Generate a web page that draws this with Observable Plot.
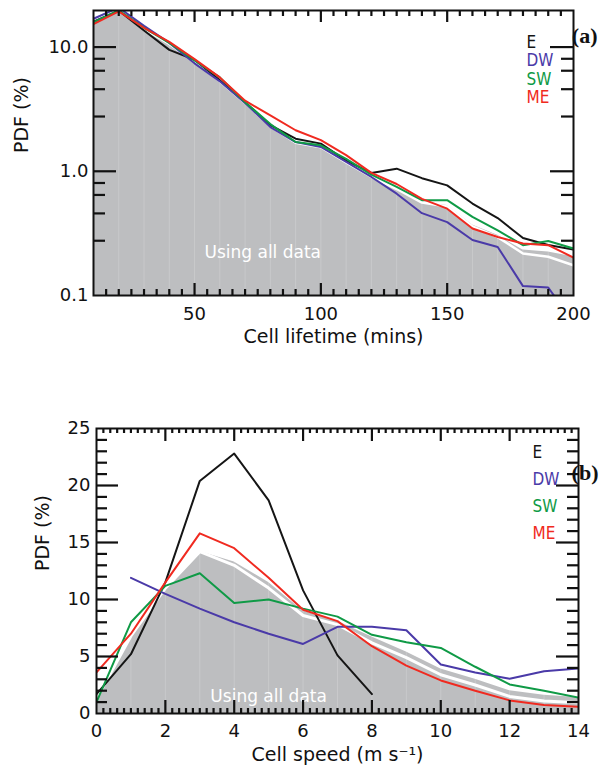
<!DOCTYPE html>
<html>
<head>
<meta charset="utf-8">
<script src="https://cdn.jsdelivr.net/npm/d3@7"></script>
<script src="https://cdn.jsdelivr.net/npm/@observablehq/plot@0.6"></script>
<style>
  html, body { margin: 0; padding: 0; background: #fff; }
  #chart svg { display: block; }
</style>
</head>
<body>
<div id="chart"></div>
<script>
// ---------- Panel (a): cell lifetime ----------
const lifetime   = [10, 20, 30, 40, 50, 60, 70, 80, 90, 100, 110, 120, 130, 140, 150, 160, 170, 180, 190, 200];
const allTop     = [16.4, 19.6, 14.0, 10.6, 7.6, 5.3, 3.55, 2.3, 1.7, 1.56, 1.18, 0.9, 0.72, 0.56, 0.53, 0.37, 0.305, 0.232, 0.224, 0.205];
const allLineTop = [16.4, 19.6, 14.0, 10.6, 7.6, 5.3, 3.55, 2.3, 1.7, 1.56, 1.18, 0.9, 0.72, 0.56, 0.52, 0.36, 0.295, 0.218, 0.205, 0.175];
const lifeE  = [16.0, 19.6, 13.6, 9.5, 7.9, 5.4, 3.6, 2.35, 1.83, 1.67, 1.22, 0.97, 1.05, 0.88, 0.77, 0.55, 0.42, 0.29, 0.255, 0.234];
const lifeDW = [16.9, 20.8, 14.8, 10.8, 7.4, 5.3, 3.55, 2.27, 1.72, 1.57, 1.19, 0.9, 0.66, 0.46, 0.39, 0.28, 0.246, 0.119, 0.116, 0.06];
const lifeSW = [15.9, 19.8, 14.3, 10.8, 7.8, 5.7, 3.6, 2.4, 1.72, 1.62, 1.26, 0.94, 0.75, 0.585, 0.585, 0.43, 0.335, 0.254, 0.275, 0.239];
const lifeME = [15.3, 19.4, 14.3, 11.0, 8.0, 5.7, 3.7, 2.82, 2.14, 1.78, 1.35, 0.97, 0.79, 0.6, 0.5, 0.346, 0.296, 0.262, 0.254, 0.202];
const lifeTicksMajor = [50, 100, 150, 200];
const pdfLogTicks = [0.1, 1, 10];

// ---------- Panel (b): cell speed ----------
const speed      = [0, 1, 2, 3, 4, 5, 6, 7, 8, 9, 10, 11, 12, 13, 14];
const allBot     = [1.3, 6.8, 11.0, 14.2, 13.3, 11.5, 9.0, 8.1, 6.7, 5.4, 3.9, 3.0, 2.0, 1.6, 1.4];
const allLineBot = [1.3, 6.8, 11.0, 14.2, 13.0, 11.0, 8.6, 7.8, 6.2, 4.9, 3.4, 2.5, 1.5, 1.1, 0.95];
const spdE  = [1.7, 5.2, 11.5, 20.4, 22.8, 18.7, 10.8, 5.1, 1.7, null, null, null, null, null, null];
const spdDW = [null, 11.9, 10.5, 9.2, 8.0, 7.0, 6.1, 7.6, 7.6, 7.3, 4.3, 3.6, 3.05, 3.7, 3.95];
const spdSW = [1.0, 8.0, 11.2, 12.3, 9.7, 10.0, 9.2, 8.5, 6.9, 6.25, 5.75, 4.1, 2.55, 2.0, 1.4];
const spdME = [3.6, 7.0, 11.5, 15.8, 14.5, 11.9, 9.1, 8.1, 5.9, 4.2, 2.9, 2.0, 1.15, 0.75, 0.6];
const speedTicksMajor = [0, 2, 4, 6, 8, 10, 12, 14];
const pdfLinTicks = [0, 5, 10, 15, 20, 25];

const seriesNames = ["E", "DW", "SW", "ME"];
const seriesColors = ["#151515", "#4a3aa8", "#0f9a46", "#f02a20"];
const grayFill = "#bdbec0";
const ink = "#111111";

const topRows = lifetime.map((t, i) => ({
  x: t, all: allTop[i], allLine: allLineTop[i],
  E: lifeE[i], DW: lifeDW[i], SW: lifeSW[i], ME: lifeME[i]
}));
const botRows = speed.map((s, i) => ({
  x: s, all: allBot[i], allLine: allLineBot[i],
  E: spdE[i], DW: spdDW[i], SW: spdSW[i], ME: spdME[i]
}));

function seriesLines(rows) {
  return seriesNames.map((k, i) =>
    Plot.line(rows, {x: "x", y: k, stroke: seriesColors[i], strokeWidth: 2, clip: true}));
}
function legend(dx, dy0, step, size) {
  return seriesNames.map((k, i) =>
    Plot.text([k], {text: d => d, frameAnchor: "top-left", dx, dy: dy0 + i * step,
      textAnchor: "start", lineAnchor: "middle", fill: seriesColors[i],
      fontSize: size, fontFamily: "DejaVu Sans Condensed, DejaVu Sans, sans-serif"}));
}

// inward frame ticks as rule marks; tick length (px) converted to data units of each scale
function frameTicks(xDom, yDom, yLog, innerW, innerH, xSets, ySets) {
  const [xa, xb] = xDom, [ya, yb] = yDom;
  const yShift = (base, px) => yLog
    ? Math.pow(10, Math.log10(base) + px * (Math.log10(yb) - Math.log10(ya)) / innerH)
    : base + px * (yb - ya) / innerH;
  const xShift = (base, px) => base + px * (xb - xa) / innerW;
  const st = {stroke: ink, strokeWidth: 2.2};
  const marks = [];
  for (const {values, len} of xSets) {
    marks.push(Plot.ruleX(values, {x: d => d, y1: ya, y2: yShift(ya, len), ...st}));
    marks.push(Plot.ruleX(values, {x: d => d, y1: yb, y2: yShift(yb, -len), ...st}));
  }
  for (const {values, len} of ySets) {
    marks.push(Plot.ruleY(values, {y: d => d, x1: xa, x2: xShift(xa, len), ...st}));
    marks.push(Plot.ruleY(values, {y: d => d, x1: xb, x2: xShift(xb, -len), ...st}));
  }
  return marks;
}

// ----- panel (a) -----
const A = {w: 613, h: 360, mt: 10, mb: 65, ml: 93, mr: 40};
const aDomX = [10, 200], aDomY = [0.1, 19.7];
const minorLife = d3.range(15, 200, 5).filter(v => !lifeTicksMajor.includes(v));
const minorLog = [0.276, 0.458, 0.645, 0.805, 2.76, 4.58, 6.45, 8.05];

const plotA = Plot.plot({
  width: A.w, height: A.h,
  marginTop: A.mt, marginBottom: A.mb, marginLeft: A.ml, marginRight: A.mr,
  style: {fontFamily: "DejaVu Sans, sans-serif", fontSize: "18px", color: ink, background: "white", overflow: "visible"},
  x: {domain: aDomX},
  y: {type: "log", domain: aDomY},
  marks: [
    Plot.areaY(topRows, {x: "x", y1: 0.1, y2: "all", fill: grayFill, clip: true}),
    Plot.ruleX(topRows.slice(1, -1), {x: "x", y1: 0.1, y2: "all", stroke: "white", strokeOpacity: 0.18, strokeWidth: 1}),
    Plot.line(topRows, {x: "x", y: "allLine", stroke: "white", strokeWidth: 2.5, clip: true}),
    Plot.text(["Using all data"], {x: 77, y: 0.22, text: d => d, fill: "white", fontSize: 17}),
    ...seriesLines(topRows),
    ...frameTicks(aDomX, aDomY, true, A.w - A.ml - A.mr, A.h - A.mt - A.mb,
      [{values: lifeTicksMajor.slice(0, -1), len: 12}, {values: minorLife, len: 6}],
      [{values: pdfLogTicks.slice(1), len: 23}, {values: minorLog, len: 12}]),
    Plot.frame({stroke: ink, strokeWidth: 2}),
    Plot.axisX({ticks: lifeTicksMajor, tickSize: 0, tickPadding: 12, label: null}),
    Plot.axisY({ticks: pdfLogTicks, tickFormat: d3.format(".1f"), tickSize: 0, tickPadding: 5, label: null}),
    Plot.text(["Cell lifetime (mins)"], {text: d => d, frameAnchor: "bottom", dy: 47, fontSize: 19, fill: ink}),
    Plot.text(["PDF (%)"], {text: d => d, frameAnchor: "left", dx: -72, rotate: -90, fontSize: 19, fill: ink}),
    ...legend(433, 32, 18.5, 17),
    Plot.text(["(a)"], {text: d => d, frameAnchor: "top-right", dx: 24, dy: 17, fontSize: 22, fontWeight: "bold",
      fontFamily: "Liberation Serif, serif", fill: ink})
  ]
});

// ----- panel (b) -----
const B = {w: 613, h: 412, mt: 68, mb: 59, ml: 96, mr: 35};
const bDomX = [0, 14], bDomY = [0, 25];
const minorSpeed = d3.range(1, 70).map(v => v / 5).filter(v => v % 2 !== 0);
const minorPdf = d3.range(1, 25, 1).filter(v => v % 5 !== 0);

const plotB = Plot.plot({
  width: B.w, height: B.h,
  marginTop: B.mt, marginBottom: B.mb, marginLeft: B.ml, marginRight: B.mr,
  style: {fontFamily: "DejaVu Sans, sans-serif", fontSize: "18px", color: ink, background: "white", overflow: "visible"},
  x: {domain: bDomX},
  y: {domain: bDomY},
  marks: [
    Plot.areaY(botRows, {x: "x", y1: 0, y2: "all", fill: grayFill}),
    Plot.ruleX(botRows.slice(1, -1), {x: "x", y1: 0, y2: "all", stroke: "white", strokeOpacity: 0.18, strokeWidth: 1}),
    Plot.line(botRows, {x: "x", y: "allLine", stroke: "white", strokeWidth: 3}),
    Plot.text(["Using all data"], {x: 5, y: 1.45, text: d => d, fill: "white", fontSize: 17}),
    ...seriesLines(botRows),
    ...frameTicks(bDomX, bDomY, false, B.w - B.ml - B.mr, B.h - B.mt - B.mb,
      [{values: speedTicksMajor.slice(1, -1), len: 13}, {values: minorSpeed, len: 5}],
      [{values: pdfLinTicks.slice(1, -1), len: 22}, {values: minorPdf, len: 11}]),
    Plot.frame({stroke: ink, strokeWidth: 2}),
    Plot.axisX({ticks: speedTicksMajor, tickSize: 0, tickPadding: 11, label: null}),
    Plot.axisY({ticks: pdfLinTicks, tickSize: 0, tickPadding: 6, label: null}),
    Plot.text(["Cell speed (m s\u207B\u00B9)"], {text: d => d, frameAnchor: "bottom", dy: 47, fontSize: 19, fill: ink}),
    Plot.text(["PDF (%)"], {text: d => d, frameAnchor: "left", dx: -54, rotate: -90, fontSize: 19, fill: ink}),
    ...legend(436, 24, 27, 17),
    Plot.text(["(b)"], {text: d => d, frameAnchor: "top-right", dx: 20, dy: 36, fontSize: 22, fontWeight: "bold",
      fontFamily: "Liberation Serif, serif", fill: ink})
  ]
});

const root = document.getElementById("chart");
root.appendChild(plotA);
root.appendChild(plotB);
</script>
</body>
</html>
